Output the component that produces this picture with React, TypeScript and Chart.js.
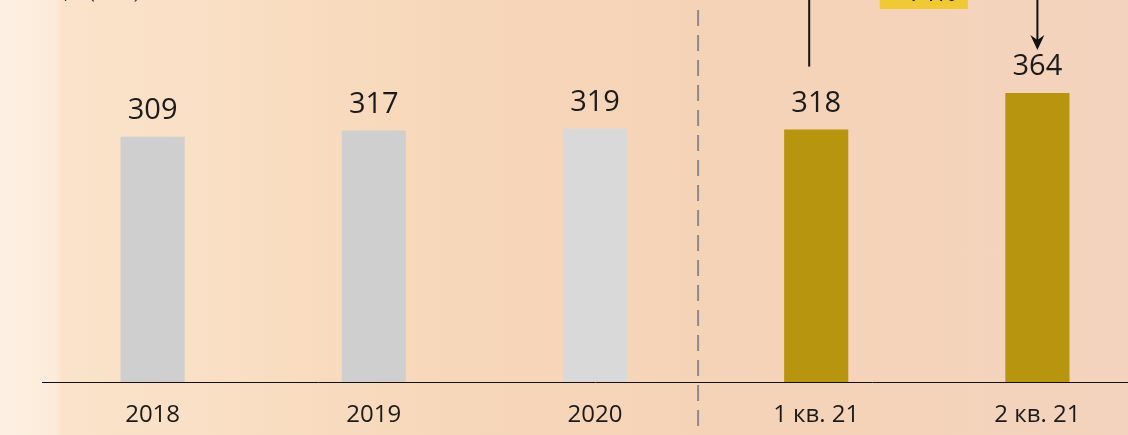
import React, { useEffect, useRef } from "react";
import { Chart, registerables } from "chart.js";

Chart.register(...registerables);

const categories = ["2018", "2019", "2020", "1 кв. 21", "2 кв. 21"];
const values = [309, 317, 319, 318, 364];
const barColors = ["#cfcfcf", "#cfcfcf", "#d9d9d9", "#b8950f", "#b8950f"];
const growthLabel = "+14%";
const unitTitle = "Объем, т (млн)";

const FONT = "'Open Sans', 'DejaVu Sans', sans-serif";

const overlayPlugin = {
  id: "overlay",
  afterDatasetsDraw(chart: any) {
    const ctx = chart.ctx;
    const meta = chart.getDatasetMeta(0);
    const xScale = chart.scales.x;
    ctx.save();
    // value labels
    ctx.fillStyle = "#1b1b1b";
    ctx.font = `29px ${FONT}`;
    ctx.textAlign = "center";
    ctx.textBaseline = "middle";
    meta.data.forEach((bar: any, i: number) => {
      ctx.fillText(String(values[i]), bar.x, bar.y - 26);
    });

    // dashed separator between years and quarters
    const sepX = (xScale.getPixelForValue(2) + xScale.getPixelForValue(3)) / 2 - 7.5;
    ctx.strokeStyle = "#8a8a8a";
    ctx.lineWidth = 2;
    ctx.setLineDash([16, 9]);
    ctx.beginPath();
    ctx.moveTo(sepX, 10);
    ctx.lineTo(sepX, chart.height);
    ctx.stroke();
    ctx.setLineDash([]);

    // growth bracket
    const b3 = meta.data[3];
    const b4 = meta.data[4];
    ctx.strokeStyle = "#111";
    ctx.lineWidth = 2;
    ctx.beginPath();
    ctx.moveTo(b3.x - 7, -5);
    ctx.lineTo(b3.x - 7, b3.y - 63);
    ctx.stroke();

    const tipY = b4.y - 43;
    ctx.beginPath();
    ctx.moveTo(b4.x, -5);
    ctx.lineTo(b4.x, tipY - 6);
    ctx.stroke();
    ctx.fillStyle = "#111";
    ctx.beginPath();
    ctx.moveTo(b4.x, tipY);
    ctx.lineTo(b4.x - 7, tipY - 15);
    ctx.lineTo(b4.x, tipY - 10);
    ctx.lineTo(b4.x + 7, tipY - 15);
    ctx.closePath();
    ctx.fill();

    // growth box
    const boxCx = (b3.x + b4.x) / 2 - 3;
    ctx.fillStyle = "#f0c935";
    ctx.fillRect(boxCx - 44, -30, 88, 39);
    ctx.fillStyle = "#1b1b1b";
    ctx.font = `26px ${FONT}`;
    ctx.textAlign = "center";
    ctx.textBaseline = "alphabetic";
    ctx.fillText(growthLabel, boxCx, 1);

    // unit title (cut at top)
    ctx.textAlign = "left";
    ctx.font = `20px ${FONT}`;
    ctx.fillStyle = "#333";
    ctx.fillText(unitTitle, -3, -2);
    ctx.restore();
  },
};

export default function App() {
  const ref = useRef<HTMLCanvasElement>(null);
  useEffect(() => {
    document.body.style.margin = "0";
    const canvas = ref.current!;
    const chart = new Chart(canvas, {
      type: "bar",
      data: {
        labels: categories,
        datasets: [
          {
            data: values,
            backgroundColor: barColors,
            borderWidth: 0,
            categoryPercentage: 1,
            barPercentage: 0.29,
          },
        ],
      },
      options: {
        animation: false,
        responsive: false,
        devicePixelRatio: 1,
        layout: { padding: { left: 42, right: 0, top: 1, bottom: 0 } },
        plugins: { legend: { display: false }, tooltip: { enabled: false } },
        scales: {
          x: {
            grid: { display: false, drawTicks: false },
            border: { display: true, color: "#111", width: 1 },
            ticks: {
              color: "#1b1b1b",
              padding: 19,
              font: { family: FONT, size: 24 },
              maxRotation: 0,
              autoSkip: false,
            },
            afterFit(scale: any) {
              scale.height = 53;
            },
          },
          y: {
            display: false,
            min: 0,
            max: 480,
          },
        },
      },
      plugins: [overlayPlugin],
    });
    return () => chart.destroy();
  }, []);

  return (
    <div
      style={{
        position: "fixed",
        left: 0,
        top: 0,
        width: 1128,
        height: 435,
        overflow: "hidden",
        background:
          "linear-gradient(to right, #fdf0e3 0px, #fcebd9 56px, #fae3ca 62px, #f9dec3 250px, #f7d7b9 450px, #f5d3b7 700px, #f4d3be 1128px)",
      }}
    >
      <canvas ref={ref} width={1148} height={435} style={{ display: "block", width: 1148, height: 435 }} />
    </div>
  );
}
